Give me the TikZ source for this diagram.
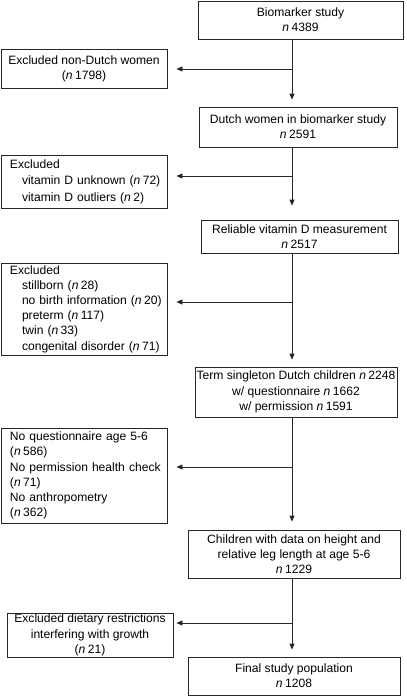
\documentclass[tikz,border=0pt]{standalone}
\usepackage{fontspec}
\setmainfont{Liberation Sans}
\usetikzlibrary{arrows.meta,calc}
\newcommand\nval[1]{\textit{n}\hspace{0.2em}#1}
\newcommand\lm{\hspace*{9pt}}
\newcommand\ind{\hspace*{21pt}}
\begin{document}
\begin{tikzpicture}[x=1pt,y=-1pt,
  txt/.style={font=\fontsize{12.1}{15.2}\selectfont},
  box/.style={txt, draw=black!85, line width=0.8pt, inner sep=0pt, align=center},
  lbox/.style={txt, draw=black!85, line width=0.8pt, inner xsep=0pt, inner ysep=0pt, align=left, text width=166pt},
  link/.style={draw=black!85, line width=0.8pt},
  arr/.style={link, -{Triangle[width=5pt,length=6pt]}},
]
\useasboundingbox (0,0) rectangle (407,697);

\node[box, minimum width=205pt, minimum height=38pt] (bio) at (300.5,20) {Biomarker study\\\nval{4389}};
\node[box, minimum width=166pt, minimum height=39pt] (nondutch) at (84,68.5) {Excluded non-Dutch women\\(\nval{1798})};
\node[box, minimum width=198pt, minimum height=40pt] (dutch) at (298,127) {Dutch women in biomarker study\\\nval{2591}};
\node[lbox, minimum height=53pt, font=\fontsize{12.1}{16.5}\selectfont] (exvit) at (84,181.5) {\lm Excluded\\\ind vitamin D unknown (\nval{72})\\\ind vitamin D outliers (\nval{2})};
\node[box, minimum width=197pt, minimum height=33pt] (reliable) at (299.5,236.5) {Reliable vitamin D measurement\\\nval{2517}};
\node[lbox, minimum height=92pt] (exbirth) at (84,309) {\lm Excluded\\\ind stillborn (\nval{28})\\\ind no birth information (\nval{20})\\\ind preterm (\nval{117})\\\ind twin (\nval{33})\\\ind congenital disorder (\nval{71})};
\node[box, minimum width=202pt, minimum height=50pt] (term) at (296,392) {Term singleton Dutch children \nval{2248}\\w/ questionnaire \nval{1662}\\w/ permission \nval{1591}};
\node[lbox, minimum height=95pt] (noq) at (84,475.5) {\lm No questionnaire age 5-6\\\lm(\nval{586})\\\lm No permission health check\\\lm(\nval{71})\\\lm No anthropometry\\\lm(\nval{362})};
\node[box, minimum width=212pt, minimum height=48pt] (children) at (294,554) {Children with data on height and\\relative leg length at age 5-6\\\nval{1229}};
\node[box, minimum width=166pt, minimum height=44pt] (diet) at (90,635) {Excluded dietary restrictions\\interfering with growth\\(\nval{21})};
\node[box, minimum width=212pt, minimum height=38pt] (final) at (294,676) {Final study population\\\nval{1208}};

\coordinate (sp) at (292,0);
\coordinate (j1) at (292,69);
\coordinate (j2) at (292,176);
\coordinate (j3) at (292,302);
\coordinate (j4) at (292,467);
\coordinate (j5) at (292,623);

\draw[arr, shorten >=7pt] (bio.south -| sp) -- (dutch.north -| sp);
\draw[arr, shorten >=9pt] (j1) -- (nondutch.east |- j1);
\draw[arr, shorten >=14pt] (dutch.south -| sp) -- (reliable.north -| sp);
\draw[arr, shorten >=9pt] (j2) -- (exvit.east |- j2);
\draw[arr, shorten >=7pt] (reliable.south -| sp) -- (term.north -| sp);
\draw[arr, shorten >=9pt] (j3) -- (exbirth.east |- j3);
\draw[arr, shorten >=8pt] (term.south -| sp) -- (children.north -| sp);
\draw[arr, shorten >=9pt] (j4) -- (noq.east |- j4);
\draw[arr, shorten >=7pt] (children.south -| sp) -- (final.north -| sp);
\draw[arr, shorten >=3pt] (j5) -- (diet.east |- j5);
\end{tikzpicture}
\end{document}
